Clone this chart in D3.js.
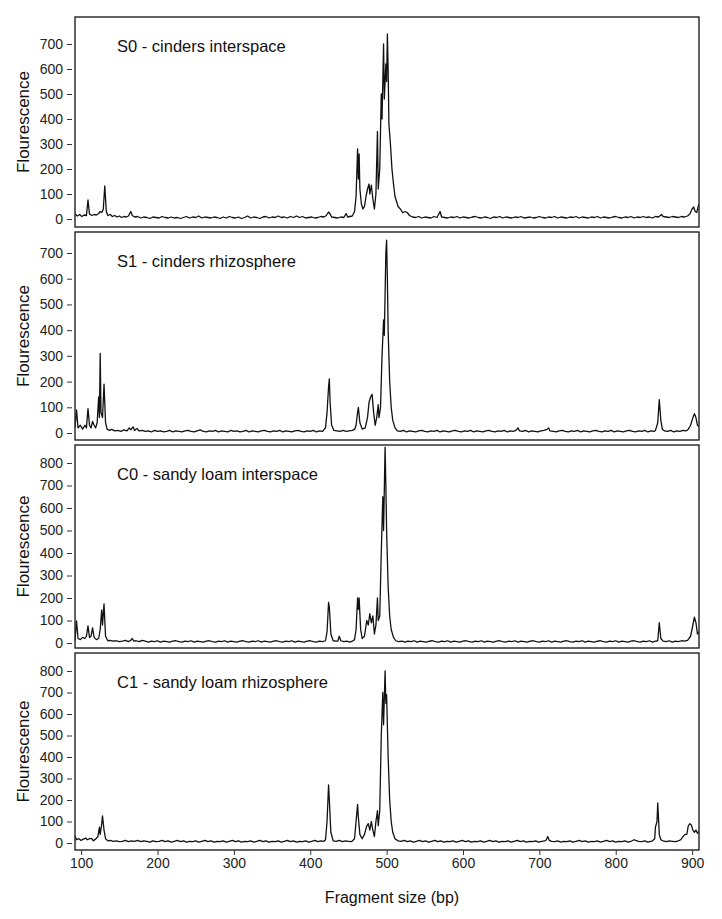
<!DOCTYPE html>
<html><head><meta charset="utf-8">
<script src="https://cdn.jsdelivr.net/npm/d3@7"></script>
<style>body{margin:0;background:#fff}svg{display:block}</style>
</head><body><div id="chart"></div>
<script>
const xTicks = [100,200,300,400,500,600,700,800,900];
const titles = ["S0 - cinders interspace","S1 - cinders rhizosphere","C0 - sandy loam interspace","C1 - sandy loam rhizosphere"];
const yTicksA = [0,100,200,300,400,500,600,700];
const yTicksB = [0,100,200,300,400,500,600,700,800];

const s0Data = [[92,20],[95,12],[98,18],[101,10],[104,16],[107,14],[109,76],[111,20],[114,14],[117,18],[120,16],[123,22],[125,30],[127,26],[129,38],[131,132],[133,30],[135,14],[138,18],[141,10],[144,14],[147,8],[150,12],[153,6],[156,10],[159,8],[162,12],[165,30],[167,14],[170,8],[174,10],[178,4],[182,8],[186,6],[190,2],[194,8],[198,6],[202,4],[206,10],[210,6],[214,4],[218,8],[222,4],[226,6],[230,2],[234,6],[238,10],[242,4],[246,8],[250,6],[254,12],[258,4],[262,8],[266,6],[270,4],[274,8],[278,6],[282,2],[286,8],[290,4],[294,10],[298,6],[302,4],[306,8],[310,2],[314,6],[318,12],[322,4],[326,8],[330,6],[334,2],[338,8],[342,10],[346,4],[350,8],[354,6],[358,12],[362,6],[366,8],[370,4],[374,10],[378,6],[382,12],[386,6],[390,10],[394,4],[398,6],[402,8],[406,4],[410,6],[414,10],[418,8],[421,14],[424,28],[426,20],[428,8],[432,6],[436,4],[440,8],[444,6],[447,22],[449,8],[452,10],[455,12],[458,30],[460,90],[462,280],[463,160],[464,260],[465,120],[467,60],[469,40],[471,50],[473,90],[475,120],[477,140],[478,100],[480,135],[482,80],[484,40],[486,100],[488,350],[489,120],[491,200],[493,500],[494,400],[496,700],[497,480],[499,620],[500,550],[501,740],[502,600],[503,380],[505,300],[507,200],[509,140],[511,90],[513,70],[515,50],[518,40],[521,25],[524,30],[527,26],[530,14],[534,8],[538,6],[542,10],[546,4],[550,8],[554,6],[558,4],[562,10],[566,6],[570,30],[572,8],[576,6],[580,4],[584,8],[588,6],[592,10],[596,4],[600,8],[604,6],[608,4],[612,8],[616,10],[620,6],[624,4],[628,8],[632,6],[636,2],[640,8],[644,6],[648,10],[652,4],[656,8],[660,6],[664,4],[668,8],[672,6],[676,10],[680,4],[684,6],[688,8],[692,4],[696,6],[700,10],[704,6],[708,4],[712,8],[716,6],[720,10],[724,4],[728,8],[732,6],[736,4],[740,8],[744,6],[748,10],[752,4],[756,8],[760,6],[764,4],[768,8],[772,6],[776,10],[780,4],[784,8],[788,6],[792,4],[796,8],[800,10],[804,6],[808,4],[812,8],[816,6],[820,10],[824,4],[828,8],[832,6],[836,10],[840,6],[844,8],[848,4],[852,10],[856,8],[860,18],[862,10],[866,8],[870,6],[874,10],[878,8],[882,6],[886,10],[890,8],[894,12],[897,20],[900,40],[902,48],[904,30],[906,26],[908,50],[909,60]];

const s1Data = [[92,20],[94,90],[96,20],[99,30],[102,15],[105,30],[107,20],[109,95],[111,30],[113,20],[115,45],[117,30],[119,20],[121,40],[123,140],[124,60],[125,310],[126,80],[128,60],[130,190],[132,40],[134,15],[137,10],[140,14],[144,8],[148,10],[152,6],[156,12],[160,8],[163,20],[165,12],[168,24],[170,10],[173,18],[176,8],[180,10],[184,6],[188,8],[192,4],[196,10],[200,6],[204,8],[208,4],[212,6],[216,10],[220,4],[224,8],[228,6],[232,4],[236,8],[240,10],[244,6],[248,4],[252,8],[256,12],[260,6],[264,4],[268,8],[272,6],[276,10],[280,4],[284,8],[288,6],[292,4],[296,10],[300,6],[304,8],[308,4],[312,6],[316,10],[320,4],[324,8],[328,6],[332,4],[336,8],[340,10],[344,6],[348,4],[352,8],[356,6],[360,10],[364,4],[368,8],[372,6],[376,4],[380,8],[384,10],[388,6],[392,4],[396,8],[400,6],[404,10],[408,4],[412,8],[416,6],[420,20],[422,80],[424,180],[425,210],[426,120],[428,30],[431,10],[435,8],[439,6],[443,10],[447,6],[451,8],[455,10],[458,14],[460,30],[462,80],[463,100],[465,40],[468,15],[472,20],[475,60],[477,120],[479,140],[481,150],[483,80],[485,30],[487,60],[489,110],[490,60],[492,100],[494,300],[496,440],[497,380],[499,700],[500,750],[501,600],[502,400],[504,200],[506,100],[508,50],[511,20],[514,8],[518,6],[522,10],[526,4],[530,8],[534,6],[538,4],[542,8],[546,10],[550,6],[554,4],[558,8],[562,6],[566,10],[570,4],[574,8],[578,6],[582,4],[586,8],[590,10],[594,6],[598,4],[602,8],[606,6],[610,10],[614,4],[618,8],[622,6],[626,4],[630,8],[634,10],[638,6],[642,4],[646,8],[650,6],[654,10],[658,4],[662,8],[666,6],[670,12],[672,20],[674,8],[678,6],[682,10],[686,4],[690,8],[694,6],[698,4],[702,8],[706,10],[710,14],[712,20],[714,8],[718,6],[722,4],[726,8],[730,10],[734,6],[738,4],[742,8],[746,6],[750,10],[754,4],[758,8],[762,6],[766,4],[770,8],[774,10],[778,6],[782,4],[786,8],[790,6],[794,10],[798,4],[802,8],[806,6],[810,4],[814,8],[818,10],[822,6],[826,4],[830,8],[834,6],[838,10],[842,4],[846,8],[850,6],[852,10],[855,40],[857,130],[859,50],[861,15],[864,8],[868,6],[872,10],[876,4],[880,8],[884,6],[888,10],[892,8],[895,15],[898,30],[901,60],[903,75],[905,60],[907,30],[909,25]];

const c0Data = [[92,10],[94,98],[96,20],[99,15],[102,25],[105,20],[107,30],[109,76],[111,25],[113,30],[115,67],[117,25],[120,15],[123,20],[125,60],[127,147],[128,80],[130,174],[132,30],[135,10],[138,12],[142,8],[146,10],[150,6],[154,8],[158,12],[162,6],[165,12],[167,20],[169,8],[172,10],[176,6],[180,12],[184,8],[188,4],[192,8],[196,6],[200,10],[204,4],[208,8],[212,6],[216,4],[220,8],[224,10],[228,6],[232,4],[236,8],[240,6],[244,10],[248,4],[252,8],[256,6],[260,4],[264,8],[268,10],[272,6],[276,4],[280,8],[284,6],[288,10],[292,4],[296,8],[300,6],[304,4],[308,8],[312,10],[316,6],[320,4],[324,8],[328,6],[332,10],[336,4],[340,8],[344,6],[348,4],[352,8],[356,10],[360,6],[364,4],[368,8],[372,6],[376,10],[380,4],[384,8],[388,6],[392,4],[396,8],[400,10],[404,6],[408,4],[412,8],[416,6],[420,10],[422,50],[424,180],[425,160],[427,40],[430,10],[434,8],[436,8],[438,30],[440,10],[444,6],[448,8],[452,4],[455,8],[458,15],[460,60],[462,200],[463,150],[464,200],[466,60],[468,20],[471,30],[474,100],[476,80],[478,130],[480,90],[482,120],[484,40],[486,80],[488,200],[489,100],[491,120],[493,400],[495,650],[496,500],[498,870],[499,700],[500,500],[502,250],[504,120],[506,60],[509,25],[512,10],[516,6],[520,8],[524,4],[528,8],[532,6],[536,10],[540,4],[544,8],[548,6],[552,4],[556,8],[560,10],[564,6],[568,4],[572,8],[576,6],[580,10],[584,4],[588,8],[592,6],[596,4],[600,8],[604,10],[608,6],[612,4],[616,8],[620,6],[624,10],[628,4],[632,8],[636,6],[640,4],[644,8],[648,10],[652,6],[656,4],[660,8],[664,6],[668,10],[672,4],[676,8],[680,6],[684,4],[688,8],[692,10],[696,6],[700,4],[704,8],[708,6],[712,10],[716,4],[720,8],[724,6],[728,4],[732,8],[736,10],[740,6],[744,4],[748,8],[752,6],[756,10],[760,4],[764,8],[768,6],[772,4],[776,8],[780,10],[784,6],[788,4],[792,8],[796,6],[800,10],[804,4],[808,8],[812,6],[816,4],[820,8],[824,10],[828,6],[832,4],[836,8],[840,6],[844,10],[848,4],[852,8],[855,10],[857,90],[859,20],[862,8],[866,6],[870,10],[874,4],[878,8],[882,6],[886,10],[890,8],[894,12],[898,30],[901,80],[903,115],[905,90],[907,40],[909,50]];

const c1Data = [[92,33],[94,15],[97,20],[100,12],[103,18],[106,23],[108,15],[111,20],[114,20],[116,10],[119,18],[122,30],[124,74],[125,40],[127,90],[128,126],[130,60],[132,20],[135,10],[138,12],[142,8],[146,10],[150,6],[154,8],[158,12],[162,6],[166,10],[170,8],[174,12],[178,6],[182,10],[186,8],[190,4],[194,10],[198,6],[202,8],[206,12],[210,6],[214,10],[218,4],[222,8],[226,12],[230,6],[234,10],[238,4],[242,8],[246,6],[250,10],[254,4],[258,8],[262,12],[266,6],[270,10],[274,4],[278,8],[282,6],[286,10],[290,4],[294,8],[298,12],[302,6],[306,10],[310,4],[314,8],[318,6],[322,10],[326,4],[330,8],[334,12],[338,6],[342,10],[346,4],[350,8],[354,6],[358,10],[362,4],[366,8],[370,12],[374,6],[378,10],[382,4],[386,8],[390,6],[394,10],[398,4],[402,8],[406,12],[410,6],[414,10],[418,8],[420,15],[422,100],[424,270],[425,200],[427,50],[430,10],[434,8],[438,12],[442,6],[446,10],[450,8],[454,6],[458,20],[460,100],[462,180],[463,120],[465,40],[468,20],[471,40],[474,80],[476,90],[478,60],[480,100],[482,60],[484,30],[486,100],[488,150],[489,80],[491,150],[493,500],[495,700],[496,550],[498,800],[499,650],[500,690],[502,400],[504,200],[506,100],[508,50],[511,20],[515,10],[519,8],[523,12],[527,6],[531,10],[535,4],[539,8],[543,12],[547,6],[551,10],[555,4],[559,8],[563,12],[567,6],[571,10],[575,4],[579,8],[583,6],[587,10],[591,4],[595,8],[599,12],[603,6],[607,10],[611,4],[615,8],[619,6],[623,10],[627,4],[631,8],[635,12],[639,6],[643,10],[647,4],[651,8],[655,6],[659,10],[663,4],[667,8],[671,12],[675,6],[679,10],[683,4],[687,8],[691,6],[695,10],[699,4],[703,8],[707,10],[709,14],[711,30],[713,12],[716,8],[720,6],[724,10],[728,4],[732,8],[736,6],[740,10],[744,4],[748,8],[752,12],[756,6],[760,10],[764,4],[768,8],[772,6],[776,10],[780,4],[784,8],[788,12],[792,6],[796,10],[800,4],[804,8],[808,6],[812,10],[816,4],[820,8],[824,15],[826,12],[830,8],[834,6],[838,10],[842,4],[846,8],[848,10],[851,20],[852,74],[854,100],[855,186],[857,40],[859,15],[862,10],[866,6],[870,10],[874,8],[878,6],[882,10],[885,15],[888,30],[891,40],[893,40],[895,80],[897,90],[899,84],[901,60],[903,50],[905,60],[907,45],[909,55]];

const W = 722, H = 919;
const xLeft = 75, xRight = 699;
const panels = [
  {data:s0Data, title:titles[0], ticks:yTicksA, top:17, bottom:227, y0:219, yTopVal:700, yTop:44},
  {data:s1Data, title:titles[1], ticks:yTicksA, top:232, bottom:440, y0:433, yTopVal:700, yTop:253},
  {data:c0Data, title:titles[2], ticks:yTicksB, top:445, bottom:648, y0:643, yTopVal:800, yTop:463},
  {data:c1Data, title:titles[3], ticks:yTicksB, top:653, bottom:850, y0:843, yTopVal:800, yTop:671}
];
const font = "'Liberation Sans Narrow','Arial Narrow','Liberation Sans',Arial,sans-serif";
const svg = d3.select("#chart").append("svg").attr("width",W).attr("height",H);
const x = d3.scaleLinear().domain([92,909]).range([xLeft,xRight]);

panels.forEach((p,i)=>{
  const y = d3.scaleLinear().domain([0,p.yTopVal]).range([p.y0,p.yTop]);
  const g = svg.append("g");
  const clipId = "clip"+i;
  svg.append("clipPath").attr("id",clipId).append("rect")
    .attr("x",xLeft).attr("y",p.top).attr("width",xRight-xLeft).attr("height",p.bottom-p.top);
  g.append("path").datum(p.data)
    .attr("clip-path",`url(#${clipId})`)
    .attr("fill","none").attr("stroke","#111").attr("stroke-width",1.3).attr("stroke-linejoin","round")
    .attr("d",d3.line().x(d=>x(d[0])).y(d=>y(d[1])));
  g.append("rect").attr("x",xLeft).attr("y",p.top).attr("width",xRight-xLeft).attr("height",p.bottom-p.top)
    .attr("fill","none").attr("stroke","#222").attr("stroke-width",1.4);
  const ya = d3.axisLeft(y).tickValues(p.ticks).tickSize(5).tickPadding(4);
  const ag = g.append("g").attr("transform",`translate(${xLeft-3},0)`).call(ya);
  ag.select(".domain").remove();
  ag.selectAll("text").attr("font-family",font).attr("font-size",14).attr("fill","#222");
  ag.selectAll("line").attr("stroke","#333");
  g.append("text").attr("x",117).attr("y",p.top+35).text(p.title)
    .attr("font-family","'Liberation Sans',Arial,sans-serif").attr("font-size",16.5).attr("fill","#111");
  g.append("text").attr("transform",`translate(29,${(p.top+p.bottom)/2}) rotate(-90)`)
    .attr("text-anchor","middle").text("Flourescence")
    .attr("font-family","'Liberation Sans',Arial,sans-serif").attr("font-size",17).attr("fill","#111");
});
const last = panels[3];
const xa = d3.axisBottom(x).tickValues(xTicks).tickSize(5).tickPadding(3).tickFormat(d3.format("d"));
const xg = svg.append("g").attr("transform",`translate(0,${last.bottom})`).call(xa);
xg.select(".domain").remove();
xg.selectAll("text").attr("font-family",font).attr("font-size",14).attr("fill","#222");
xg.selectAll("line").attr("stroke","#333");
svg.append("text").attr("x",392).attr("y",903).attr("text-anchor","middle").text("Fragment size (bp)")
  .attr("font-family","'Liberation Sans',Arial,sans-serif").attr("font-size",16).attr("fill","#111");
</script></body></html>
